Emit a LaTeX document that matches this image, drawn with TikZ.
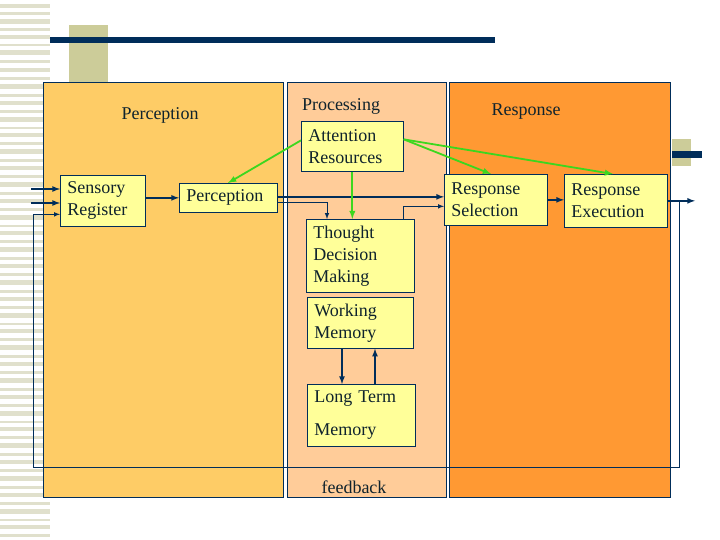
\documentclass[tikz,border=0pt]{standalone}
\usepackage{fontspec}
\setmainfont{Liberation Serif}
\usetikzlibrary{positioning}
\definecolor{navy}{RGB}{0,45,90}
\definecolor{txt}{RGB}{15,35,45}
\definecolor{percfill}{RGB}{254,204,102}
\definecolor{procfill}{RGB}{255,204,153}
\definecolor{respfill}{RGB}{255,153,51}
\definecolor{boxfill}{RGB}{255,255,153}
\definecolor{olive}{RGB}{204,204,153}
\definecolor{stripe}{RGB}{224,224,204}
\definecolor{lime}{RGB}{60,215,30}

\begin{document}
\begin{tikzpicture}[x=1pt,y=-1pt,
    font=\fontsize{18}{22}\selectfont, text=txt,
    panel/.style={draw=navy, line width=0.6pt},
    box/.style={draw=navy, fill=boxfill, line width=0.7pt, anchor=north west,
      align=left, inner xsep=7pt, inner ysep=0pt},
    flow/.style={->,>=latex, navy, line width=1.6pt},
    fb/.style={->,>=latex, navy, line width=1pt},
    attn/.style={->,>=latex, lime, line width=1.8pt}]
  \useasboundingbox (0,0) rectangle (720,540);

  % stripes and title bar
  \foreach \y/\h in {4/4,12/3,19/5,28/3,35/4,44/2,50/5,60/3,68/4,77/3,84/5,94/3,101/4,110/3,117/5,127/2,133/4,
    142/3,149/5,159/3,166/4,175/3,182/5,192/3,199/4,208/3,215/5,225/2,231/4,240/3,247/5,257/3,264/4,273/3,280/5,
    290/3,297/4,306/3,313/5,323/2,329/4,338/3,345/5,355/3,362/4,371/3,378/5,388/3,395/4,404/3,411/5,421/2,427/4,
    436/3,443/5,453/3,460/4,469/3,476/5,486/3,493/4,502/3,509/5,519/2,525/4,534/3}
    \fill[stripe] (0,\y) rectangle (50,\y+\h);
  \fill[olive] (69,25) rectangle (108,82);
  \fill[navy] (50,37) rectangle (495,43);
  \fill[olive] (672,139) rectangle (691,166);
  \fill[navy] (672,151) rectangle (702,158);

  % panels
  \filldraw[panel, fill=percfill] (43,82) rectangle (283,497);
  \filldraw[panel, fill=procfill] (287,82) rectangle (446,497);
  \filldraw[panel, fill=respfill] (449,82) rectangle (670,497);
  \node (percTitle) at (160,115) {Perception};
  \node (procTitle) at (341,106) {Processing};
  \node (respTitle) at (526,112) {Response};
  \node (feedback) at (354,487) {feedback};

  % boxes
  \node[box, text width=71pt, minimum height=51pt] (sensory) at (60,175) {Sensory\\Register};
  \node[box, text width=84pt, minimum height=29pt] (percep) at (179,183) {Perception};
  \node[box, text width=88pt, minimum height=50pt] (attnres) at (301,121) {Attention\\Resources};
  \node[box, text width=94pt, minimum height=73pt] (thought) at (306,219) {Thought\\Decision\\Making};
  \node[box, text width=92pt, minimum height=51pt] (working) at (307,297) {Working\\Memory};
  \node[box, text width=94pt, minimum height=62pt] (longterm) at (307,384) {Long Term\\[11pt]Memory};
  \node[box, text width=89pt, minimum height=51pt] (respsel) at (444,174) {Response\\Selection};
  \node[box, text width=89pt, minimum height=53pt] (respexe) at (564,174) {Response\\Execution};

  % inputs and output
  \coordinate (in1) at (31,189);
  \coordinate (in2) at (31,203);
  \coordinate (out) at (695,200);
  \coordinate (fbr) at (679,467);
  \coordinate (fbl) at (33,467);
  \draw[flow] (in1) -- (in1 -| sensory.west);
  \draw[flow] (in2) -- (in2 -| sensory.west);
  \draw[flow] (sensory.east |- percep) -- (percep.west);
  \draw[flow] ([yshift=1pt]percep.east) -- ([yshift=1pt]percep.east -| respsel.west);
  \draw[fb] ([yshift=-5pt]percep.east) -| ([xshift=21pt]thought.north west);
  \draw[fb] ([xshift=-11pt]thought.north east) |- ([yshift=-6.5pt]respsel.west);
  \draw[flow] (respsel.east) -- (respsel.east -| respexe.west);
  \draw[flow] (respexe.east) -- (respexe.east -| out);
  \draw[fb] (respexe.east -| fbr) -- (fbr) -- (fbl) |- ([yshift=-13.5pt]sensory.west);
  \draw[flow] ([xshift=35pt]working.south west) -- ([xshift=35pt]working.south west |- longterm.north);
  \draw[flow] ([xshift=68pt]longterm.north west) -- ([xshift=68pt]longterm.north west |- working.south);

  % attention
  \draw[attn] ([yshift=6pt]attnres.west) -- ([xshift=49pt]percep.north west);
  \draw[attn] (attnres.south) -- (attnres.south |- thought.north);
  \draw[attn] ([yshift=7pt]attnres.east) -- ([xshift=47pt]respsel.north west);
  \draw[attn] ([yshift=7pt]attnres.east) -- ([xshift=49pt]respexe.north west);
\end{tikzpicture}
\end{document}
